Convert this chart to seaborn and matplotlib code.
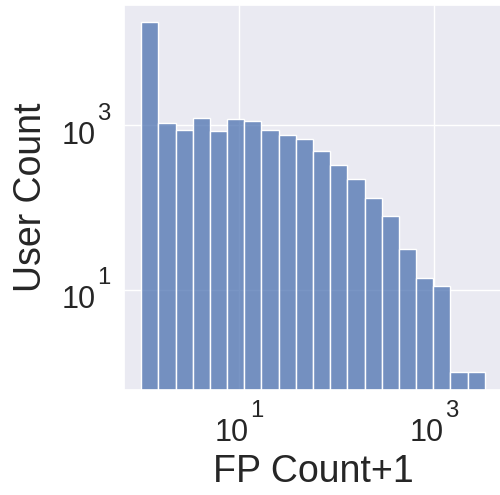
import numpy as np
import pandas as pd
import matplotlib
matplotlib.use("Agg")
import matplotlib.pyplot as plt
import matplotlib.ticker as mticker
import matplotlib._mathtext as _mt
import seaborn as sns

# Histogram of (FP count + 1) per user, 20 log-spaced bins
max_value = 3300
n_bins = 20
user_counts = [17900, 1078, 877, 1216, 863, 1192, 1118, 877, 771, 682,
               484, 327, 223, 131, 79, 31, 14, 11, 1, 1]
x_ticks = [10, 1000]

# older-style superscripts: larger, raised higher, more space
_mt.SHRINK_FACTOR = 0.78
_mt.FontConstantsBase.sup1 = 1.45
_mt.FontConstantsBase.delta = 0.16

sns.set_theme(style="darkgrid")
plt.rcParams['font.family'] = ['Liberation Sans', 'DejaVu Sans']
plt.rcParams['mathtext.fontset'] = 'custom'
plt.rcParams['mathtext.rm'] = 'Liberation Sans'
plt.rcParams['mathtext.it'] = 'Liberation Sans:italic'
plt.rcParams['mathtext.bf'] = 'Liberation Sans:bold'
plt.rcParams['mathtext.default'] = 'regular'

log_edges = np.linspace(0, np.log10(max_value), n_bins + 1)
centers = 10 ** ((log_edges[:-1] + log_edges[1:]) / 2)
df = pd.DataFrame({"fp": centers, "users": user_counts})

fig = plt.figure(figsize=(5.0, 4.95), dpi=100)
ax = fig.add_axes([124 / 500, 1 - 389.6 / 495, (502 - 124) / 500, (389.6 - 4.7) / 495])
sns.histplot(data=df, x="fp", weights="users", bins=n_bins,
             binrange=(0, np.log10(max_value)), log_scale=True, ax=ax)
ax.set_yscale("log")
ax.xaxis.set_major_locator(mticker.FixedLocator(x_ticks))
ax.yaxis.set_major_locator(mticker.FixedLocator(x_ticks))
ax.xaxis.set_minor_locator(mticker.NullLocator())
ax.yaxis.set_minor_locator(mticker.NullLocator())
ax.xaxis.set_major_formatter(mticker.LogFormatterMathtext())
ax.yaxis.set_major_formatter(mticker.LogFormatterMathtext())
ax.tick_params(labelsize=22)
ax.set_xlabel("FP Count+1", fontsize=27)
ax.set_ylabel("User Count", fontsize=27, labelpad=8)
fig.savefig("out.png", dpi=100)
